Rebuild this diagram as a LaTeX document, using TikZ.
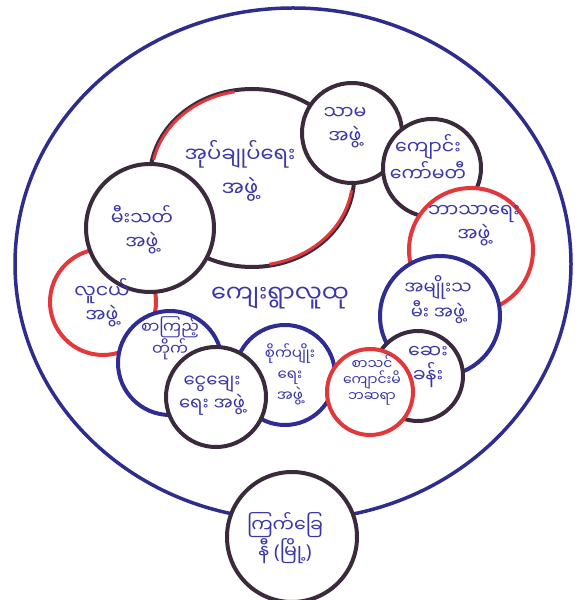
\documentclass[tikz,border=0pt]{standalone}
\usepackage{fontspec}
\newfontfamily\mmfont[Script=Myanmar]{Noto Sans Myanmar UI}
\newfontfamily\latinfont{Noto Sans}
\usetikzlibrary{shapes.geometric}
\definecolor{ringnavy}{HTML}{2E2C8C}
\definecolor{ringdark}{HTML}{3A2A3C}
\definecolor{ringred}{HTML}{E2383C}
\definecolor{ringblue}{HTML}{2F2D92}
\definecolor{inkblue}{HTML}{3B37A6}
\tikzset{
  ring/.style={circle, fill=white, line width=4pt, inner sep=0pt},
  grouptext/.style={align=center, text=inkblue, inner sep=1pt,
    font=\mmfont\fontsize{19}{24}\selectfont},
}
\newcommand{\ringnode}[5]{%
  \node[ring, draw=#5, minimum size=#4pt] (#1) at (#2,#3) {};
}

\begin{document}
\begin{tikzpicture}[x=1pt, y=1pt]
  \useasboundingbox (0,0) rectangle (581,600);
  % ---------- Village boundary ----------
  \draw[ringnavy, line width=3.5pt] (293,336) ellipse [x radius=278, y radius=256];
  \ringnode{redcross}{292}{63}{130}{ringdark}

  % ---------- Rings, back to front ----------
  \node[ring, ellipse, draw=ringdark, minimum width=204pt, minimum height=178pt] (admin) at (252,422) {};
  \draw[ringred, line width=3pt] (admin.center) ++(100:100.5 and 87.5) arc[start angle=100, end angle=168, x radius=100.5, y radius=87.5];
  \draw[ringred, line width=3pt] (admin.center) ++(-80:100.5 and 87.5) arc[start angle=-80, end angle=-8, x radius=100.5, y radius=87.5];
  \ringnode{welfare}{352}{467}{100}{ringdark}
  \ringnode{school}{432}{432}{98}{ringdark}
  \ringnode{religion}{471}{350}{124}{ringred}
  \ringnode{women}{440}{284}{120}{ringblue}
  \ringnode{youth}{103}{298}{106}{ringred}
  \ringnode{fire}{150}{372}{128}{ringdark}
  \ringnode{library}{170}{237}{104}{ringblue}
  \ringnode{farming}{285}{225}{100}{ringblue}
  \ringnode{loan}{216}{203}{100}{ringdark}
  \ringnode{clinic}{418}{224}{90}{ringdark}
  \ringnode{pta}{370}{208}{86}{ringred}

  % ---------- Labels ----------
  \node[grouptext, font=\mmfont\fontsize{21}{34}\selectfont] (admintext) at (240,429) {အုပ်ချုပ်ရေး\\အဖွဲ့};
  \node[grouptext] (welfaretext) at (345,472) {သာမ\\အဖွဲ့};
  \node[grouptext] (schooltext) at (428,442) {ကျောင်း\\ကော်မတီ};
  \node[grouptext] (religiontext) at (474,374) {ဘာသာရေး\\အဖွဲ့};
  \node[grouptext, font=\mmfont\fontsize{18}{22}\selectfont] (womentext) at (438,300) {အမျိုးသ\\မီး အဖွဲ့};
  \node[grouptext] (clinictext) at (428,233) {ဆေး\\ခန်း};
  \node[grouptext, font=\mmfont\fontsize{14}{16}\selectfont] (ptatext) at (372,220) {စာသင်\\ကျောင်းမိ\\ဘဆရာ};
  \node[grouptext] (youthtext) at (102,297) {လူငယ်\\အဖွဲ့};
  \node[grouptext] (firetext) at (142,370) {မီးသတ်\\အဖွဲ့};
  \node[grouptext, font=\mmfont\fontsize{16}{20}\selectfont] (librarytext) at (170,262) {စာကြည့်\\တိုက်};
  \node[grouptext, font=\mmfont\fontsize{15}{21}\selectfont] (farmingtext) at (290,226) {စိုက်ပျိုး\\ရေး\\အဖွဲ့};
  \node[grouptext, font=\mmfont\fontsize{18}{23}\selectfont] (loantext) at (212,204) {ငွေချေး\\ရေး အဖွဲ့};
  \node[grouptext] (redcrosstext) at (285,62) {ကြက်ခြေ\\နီ {\latinfont(}မြို့{\latinfont)}};
  \node[grouptext, font=\mmfont\fontsize{24}{28}\selectfont] (community) at (280,302) {ကျေးရွာလူထု};
\end{tikzpicture}
\end{document}
